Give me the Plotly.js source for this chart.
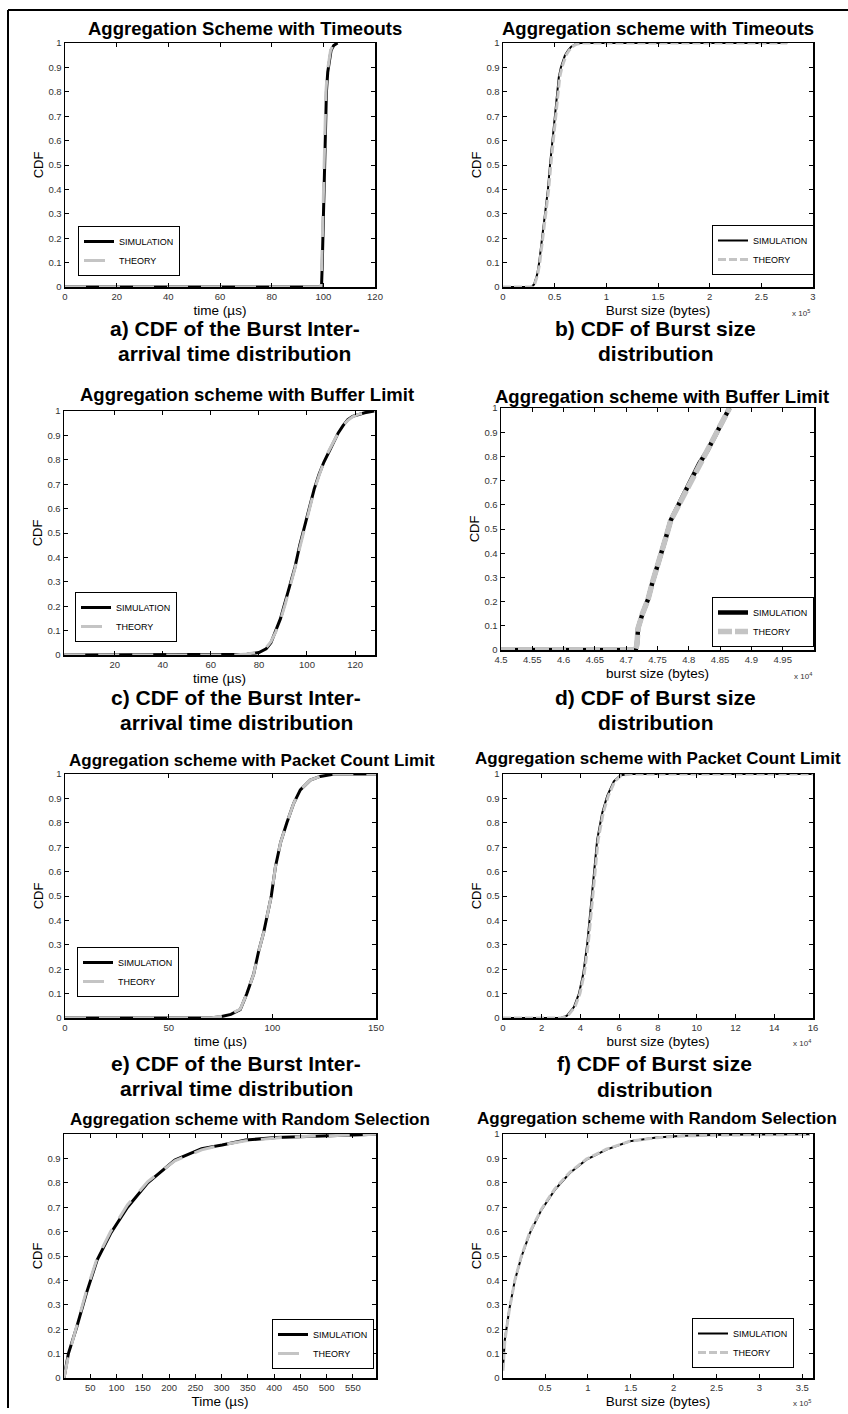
<!DOCTYPE html>
<html><head><meta charset="utf-8">
<script src="https://cdn.plot.ly/plotly-3.0.1.min.js"></script>
<style>html,body{margin:0;padding:0;background:#fff;} #chart{width:848px;height:1414px;}</style>
</head><body><div id="chart"></div>
<script>
// ---------------- DATA ----------------
// a) Timeouts - burst inter-arrival time (µs)
const aTimeSim    = [0, 99.3, 99.6, 99.9, 100.2, 100.5, 100.8, 101.2, 101.7, 102.3, 103, 104, 105.5];
const aCdfSim     = [0, 0, 0.1, 0.25, 0.42, 0.58, 0.7, 0.8, 0.88, 0.93, 0.97, 0.99, 1];
const aTimeTheory = [0, 99.1, 99.4, 99.7, 100.0, 100.3, 100.6, 101.0, 101.5, 102.1, 102.8, 103.8, 105.5];
const aCdfTheory  = [0, 0, 0.1, 0.25, 0.42, 0.58, 0.7, 0.8, 0.88, 0.93, 0.97, 0.99, 1];
// b) Timeouts - burst size (bytes)
const bSizeSim    = [0, 27000, 30000, 33000, 35000, 38000, 41000, 43500, 45500, 47800, 50000, 52000, 54000, 56000, 58000, 60000, 63000, 66000, 70000, 75000, 100000, 150000, 200000, 275000];
const bCdfSim     = [0, 0, 0.01, 0.05, 0.1, 0.2, 0.3, 0.4, 0.5, 0.6, 0.7, 0.8, 0.86, 0.9, 0.93, 0.95, 0.97, 0.985, 0.995, 1, 1, 1, 1, 1];
const bSizeTheory = [0, 27500, 30500, 33500, 35600, 38700, 41700, 44200, 46300, 48600, 50800, 52900, 54900, 57000, 59000, 61000, 64000, 67000, 71000, 76000, 100000, 150000, 200000, 275000];
const bCdfTheory  = [0, 0, 0.01, 0.05, 0.1, 0.2, 0.3, 0.4, 0.5, 0.6, 0.7, 0.8, 0.86, 0.9, 0.93, 0.95, 0.97, 0.985, 0.995, 1, 1, 1, 1, 1];
// c) Buffer limit - burst inter-arrival time (µs)
const cTimeSim    = [-1, 70, 75, 80, 83, 85, 87, 89, 91, 93, 95, 97, 99, 101, 103, 105, 107, 109, 111, 113, 115, 117, 119, 121, 124, 128];
const cCdfSim     = [0, 0, 0.003, 0.01, 0.025, 0.05, 0.1, 0.15, 0.22, 0.29, 0.36, 0.45, 0.53, 0.61, 0.68, 0.74, 0.79, 0.83, 0.87, 0.91, 0.94, 0.965, 0.978, 0.985, 0.993, 1];
const cTimeTheory = [-1, 70, 75, 80, 83, 85, 87, 89, 91, 93, 95, 97, 99, 101, 103, 105, 107, 109, 111, 113, 115, 117, 119, 121, 124, 128];
const cCdfTheory  = [0, 0, 0.004, 0.012, 0.03, 0.055, 0.095, 0.145, 0.21, 0.28, 0.355, 0.44, 0.52, 0.6, 0.675, 0.735, 0.79, 0.835, 0.875, 0.91, 0.94, 0.962, 0.976, 0.985, 0.993, 1];
// d) Buffer limit - burst size (bytes)
const dSizeSim    = [45000, 47150, 47170, 47190, 47260, 47350, 47420, 47500, 47570, 47640, 47710, 47820, 47950, 48070, 48170, 48300, 48400, 48510, 48650];
const dCdfSim     = [0, 0, 0.02, 0.09, 0.15, 0.21, 0.28, 0.345, 0.405, 0.47, 0.535, 0.59, 0.66, 0.717, 0.772, 0.825, 0.878, 0.934, 1.0];
const dSizeTheory = [45000, 47150, 47170, 47190, 47260, 47350, 47420, 47500, 47570, 47640, 47710, 47820, 47950, 48070, 48170, 48300, 48400, 48510, 48650];
const dCdfTheory  = [0, 0, 0.02, 0.09, 0.15, 0.21, 0.28, 0.345, 0.405, 0.47, 0.535, 0.59, 0.66, 0.717, 0.772, 0.825, 0.878, 0.934, 1.0];
// e) Packet count limit - burst inter-arrival time (µs)
const eTimeSim    = [0, 70, 75, 80, 84.5, 87.7, 91, 93.3, 95.8, 98.2, 99.5, 101.5, 104, 107, 110.3, 113.5, 118.3, 123, 130, 150];
const eCdfSim     = [0, 0, 0.005, 0.015, 0.034, 0.1, 0.18, 0.27, 0.35, 0.44, 0.5, 0.62, 0.72, 0.8, 0.88, 0.935, 0.975, 0.99, 1, 1];
const eTimeTheory = [0, 70, 75, 80, 84.5, 87.7, 91, 93.3, 95.8, 98.2, 99.5, 101.5, 104, 107, 110.3, 113.5, 118.3, 123, 130, 150];
const eCdfTheory  = [0, 0, 0.006, 0.017, 0.036, 0.1, 0.18, 0.27, 0.35, 0.44, 0.5, 0.62, 0.72, 0.8, 0.88, 0.935, 0.975, 0.99, 1, 1];
// f) Packet count limit - burst size (bytes)
const fSizeSim    = [0, 30000, 33000, 36600, 39200, 41400, 43500, 45200, 46900, 48600, 51200, 53800, 57200, 60700, 65800, 100000, 160000];
const fCdfSim     = [0, 0, 0.01, 0.045, 0.1, 0.18, 0.305, 0.455, 0.59, 0.73, 0.84, 0.91, 0.97, 0.995, 1, 1, 1];
const fSizeTheory = [0, 30500, 33500, 37100, 39700, 41900, 44000, 45700, 47400, 49100, 51700, 54300, 57700, 61200, 66300, 100000, 160000];
const fCdfTheory  = [0, 0, 0.01, 0.045, 0.1, 0.18, 0.305, 0.455, 0.59, 0.73, 0.84, 0.91, 0.97, 0.995, 1, 1, 1];
// g) Random selection - burst inter-arrival time (µs)
const gTimeSim    = [0, 8.4, 24.4, 42.4, 63, 88.7, 121, 159.5, 211, 262, 301, 346, 404, 455, 520, 594];
const gCdfSim     = [0, 0.1, 0.21, 0.346, 0.483, 0.592, 0.70, 0.80, 0.893, 0.94, 0.955, 0.975, 0.986, 0.99, 0.993, 0.999];
const gTimeTheory = [0, 8.4, 24.4, 42.4, 63, 88.7, 121, 159.5, 211, 262, 301, 346, 404, 455, 520, 594];
const gCdfTheory  = [0, 0.09, 0.215, 0.355, 0.49, 0.6, 0.71, 0.805, 0.89, 0.935, 0.955, 0.972, 0.984, 0.99, 0.994, 0.999];
// h) Random selection - burst size (bytes)
const hSizeSim    = [1000, 3100, 8200, 14800, 22500, 32200, 45800, 61400, 78900, 98300, 121600, 148800, 180000, 211000, 258000, 359000];
const hCdfSim     = [0.04, 0.155, 0.278, 0.40, 0.497, 0.593, 0.689, 0.771, 0.84, 0.895, 0.936, 0.97, 0.986, 0.993, 0.997, 0.999];
const hSizeTheory = [1000, 3100, 8200, 14800, 22500, 32200, 45800, 61400, 78900, 98300, 121600, 148800, 180000, 211000, 258000, 359000];
const hCdfTheory  = [0.03, 0.15, 0.275, 0.40, 0.5, 0.597, 0.692, 0.775, 0.843, 0.897, 0.938, 0.97, 0.985, 0.992, 0.996, 0.998];

// tick values / labels
const cdfTickVals   = [0, 0.1, 0.2, 0.3, 0.4, 0.5, 0.6, 0.7, 0.8, 0.9, 1];
const cdfTickText   = ['0', '0.1', '0.2', '0.3', '0.4', '0.5', '0.6', '0.7', '0.8', '0.9', '1'];
const aXTickVals    = [0, 20, 40, 60, 80, 100, 120];
const bXTickVals    = [0, 50000, 100000, 150000, 200000, 250000, 300000];
const bXTickText    = ['0', '0.5', '1', '1.5', '2', '2.5', '3'];
const cXTickVals    = [20, 40, 60, 80, 100, 120];
const dXTickVals    = [45000, 45500, 46000, 46500, 47000, 47500, 48000, 48500, 49000, 49500];
const dXTickText    = ['4.5', '4.55', '4.6', '4.65', '4.7', '4.75', '4.8', '4.85', '4.9', '4.95'];
const eXTickVals    = [0, 50, 100, 150];
const fXTickVals    = [0, 20000, 40000, 60000, 80000, 100000, 120000, 140000, 160000];
const fXTickText    = ['0', '2', '4', '6', '8', '10', '12', '14', '16'];
const gXTickVals    = [50, 100, 150, 200, 250, 300, 350, 400, 450, 500, 550];
const hXTickVals    = [50000, 100000, 150000, 200000, 250000, 300000, 350000];
const hXTickText    = ['0.5', '1', '1.5', '2', '2.5', '3', '3.5'];

const seriesNames = ['SIMULATION', 'THEORY'];
const panelTitles = ['Aggregation Scheme with Timeouts', 'Aggregation scheme with Timeouts',
  'Aggregation scheme with Buffer Limit', 'Aggregation scheme with Buffer Limit',
  'Aggregation scheme with Packet Count Limit', 'Aggregation scheme with Packet Count Limit',
  'Aggregation scheme with Random Selection', 'Aggregation scheme with Random Selection'];
const captionLines = [
  ['a) CDF of the Burst Inter-', 'arrival time distribution'],
  ['b) CDF of Burst size', 'distribution'],
  ['c) CDF of the Burst Inter-', 'arrival time distribution'],
  ['d) CDF of Burst size', 'distribution'],
  ['e) CDF of the Burst Inter-', 'arrival time distribution'],
  ['f) CDF of Burst size', 'distribution']];
const xTitles = ['time (\u00b5s)', 'Burst size (bytes)', 'time (\u00b5s)', 'burst size (bytes)',
  'time (\u00b5s)', 'burst size (bytes)', 'Time (\u00b5s)', 'Burst size (bytes)'];

// ---------------- LAYOUT / STYLE ----------------
const W = 848, H = 1414;
const FONT = 'Liberation Sans, Arial, Helvetica, sans-serif';
const px = v => v / W, py = v => 1 - v / H;

const styles = {
  long:  {simW: 3, thW: 3, dash: '21px,13px'},
  short: {simW: 2, thW: 3, dash: '8px,3px'},
  thick: {simW: 4.5, thW: 5.5, dash: '14px,3px'}
};

const panels = [
  {box:[65,375,43,287],   xr:[0,120],         xtv:aXTickVals, xtt:null,       yr:[0,1],   ytv:cdfTickVals, st:'long',  sx:aTimeSim, sy:aCdfSim, tx:aTimeTheory, ty:aCdfTheory, leg:[78,276],
   title:[245,29,18.5], exp:null},
  {box:[503,813,43,287],  xr:[0,300000],      xtv:bXTickVals, xtt:bXTickText, yr:[0,1],   ytv:cdfTickVals, st:'short', sx:bSizeSim, sy:bCdfSim, tx:bSizeTheory, ty:bCdfTheory, leg:[712,275],
   title:[658,28,18.5], exp:[801,313,'x 10<sup>5</sup>']},
  {box:[64,375,411,655],  xr:[-1.1,128.3],    xtv:cXTickVals, xtt:null,       yr:[0,1],   ytv:cdfTickVals, st:'long',  sx:cTimeSim, sy:cCdfSim, tx:cTimeTheory, ty:cCdfTheory, leg:[75,642],
   title:[247,395,18.5], exp:null},
  {box:[501,814,408,650], xr:[45000,50000],   xtv:dXTickVals, xtt:dXTickText, yr:[0,1],   ytv:cdfTickVals, st:'thick', sx:dSizeSim, sy:dCdfSim, tx:dSizeTheory, ty:dCdfTheory, leg:[712,647],
   title:[662,397,18.5], exp:[803,676,'x 10<sup>4</sup>']},
  {box:[65,376,774,1018], xr:[0,150],         xtv:eXTickVals, xtt:null,       yr:[0,1],   ytv:cdfTickVals, st:'long',  sx:eTimeSim, sy:eCdfSim, tx:eTimeTheory, ty:eCdfTheory, leg:[77,997],
   title:[252,760,17], exp:null},
  {box:[503,813,774,1018],xr:[0,160000],      xtv:fXTickVals, xtt:fXTickText, yr:[0,1],   ytv:cdfTickVals, st:'short', sx:fSizeSim, sy:fCdfSim, tx:fSizeTheory, ty:fCdfTheory, leg:null,
   title:[658,758,17], exp:[802,1043,'x 10<sup>4</sup>']},
  {box:[64,376,1134,1378],xr:[0,594],         xtv:gXTickVals, xtt:null,       yr:[0,1],   ytv:cdfTickVals.slice(0,10), st:'long', sx:gTimeSim, sy:gCdfSim, tx:gTimeTheory, ty:gCdfTheory, leg:[272,1369],
   title:[250,1119,17], exp:null},
  {box:[503,813,1134,1378],xr:[1000,362500],  xtv:hXTickVals, xtt:hXTickText, yr:[0,1],   ytv:cdfTickVals, st:'short', sx:hSizeSim, sy:hCdfSim, tx:hSizeTheory, ty:hCdfTheory, leg:[692,1368],
   title:[657,1118,17], exp:[802,1403,'x 10<sup>5</sup>']}
];
const captionPos = [[235,328,353],[655,328,353],[236,697,722],[655,697,723],[236,1063,1088],[654,1063,1089]];

const traces = [];
const layout = {
  width: W, height: H, margin: {l:0, r:0, t:0, b:0}, paper_bgcolor:'#fff', plot_bgcolor:'#fff',
  font: {family: FONT, color: '#000'}, showlegend: true, annotations: [], shapes: []
};

let legCount = 0;
panels.forEach((p, i) => {
  const n = i + 1, sfx = n === 1 ? '' : String(n);
  const st = styles[p.st];
  let legId = null;
  if (p.leg) { legCount++; legId = legCount === 1 ? 'legend' : 'legend' + legCount; }
  const common = {type:'scatter', mode:'lines', xaxis:'x'+sfx, yaxis:'y'+sfx, hoverinfo:'skip'};
  traces.push(Object.assign({}, common, {x:p.sx, y:p.sy, name:seriesNames[0], line:{color:'#000', width:st.simW},
     showlegend: !!legId, legend: legId || 'legend'}));
  traces.push(Object.assign({}, common, {x:p.tx, y:p.ty, name:seriesNames[1], line:{color:'#c4c4c4', width:st.thW, dash:st.dash},
     showlegend: !!legId, legend: legId || 'legend'}));
  const ytt = p.ytv.map(v => cdfTickText[cdfTickVals.indexOf(v)]);
  layout['xaxis'+sfx] = {
    domain:[px(p.box[0]), px(p.box[1])], anchor:'y'+sfx, range:p.xr, tickmode:'array', tickvals:p.xtv,
    ticktext: p.xtt || p.xtv.map(String), ticks:'inside', ticklen:4, tickwidth:1, tickcolor:'#000',
    showline:true, linecolor:'#000', linewidth:1.5, mirror:'ticks', showgrid:false, zeroline:false,
    tickfont:{size:9.5, color:'#333', family:FONT}, automargin:false,
    title:{text:xTitles[i], font:{size:13.5, color:'#000', family:FONT}, standoff:4}
  };
  layout['yaxis'+sfx] = {
    domain:[py(p.box[3]), py(p.box[2])], anchor:'x'+sfx, range:p.yr, tickmode:'array', tickvals:p.ytv,
    ticktext: ytt, ticks:'inside', ticklen:4, tickwidth:1, tickcolor:'#000',
    showline:true, linecolor:'#000', linewidth:1.5, mirror:'ticks', showgrid:false, zeroline:false,
    tickfont:{size:9.5, color:'#333', family:FONT}, automargin:false,
    title:{text:'CDF', font:{size:13, color:'#000', family:FONT}, standoff:2}
  };
  if (legId) {
    layout[legId] = {x:px(p.leg[0]), y:py(p.leg[1]), xanchor:'left', yanchor:'bottom', xref:'paper', yref:'paper',
      bgcolor:'#fff', bordercolor:'#000', borderwidth:1, font:{size:9, family:FONT, color:'#000'},
      itemwidth:30, tracegroupgap:0, orientation:'v'};
  }
  layout.annotations.push({text:'<b>'+panelTitles[i]+'</b>', xref:'paper', yref:'paper', x:px(p.title[0]), y:py(p.title[1]),
    xanchor:'center', yanchor:'middle', showarrow:false, font:{size:p.title[2], family:FONT, color:'#000'}});
  if (p.exp) layout.annotations.push({text:p.exp[2], xref:'paper', yref:'paper', x:px(p.exp[0]), y:py(p.exp[1]),
    xanchor:'center', yanchor:'middle', showarrow:false, font:{size:8, family:FONT, color:'#333'}});
});
captionLines.forEach((lines, i) => {
  const c = captionPos[i];
  lines.forEach((t, j) => layout.annotations.push({text:'<b>'+t+'</b>', xref:'paper', yref:'paper', x:px(c[0]), y:py(c[1+j]),
    xanchor:'center', yanchor:'middle', showarrow:false, font:{size:21, family:FONT, color:'#000'}}));
});
// outer frame (top and left edges)
layout.shapes.push({type:'line', xref:'paper', yref:'paper', x0:px(8), x1:1, y0:py(10), y1:py(10), line:{color:'#000', width:2}});
layout.shapes.push({type:'line', xref:'paper', yref:'paper', x0:px(8), x1:px(8), y0:py(10), y1:py(1408), line:{color:'#000', width:2}});

Plotly.newPlot('chart', traces, layout, {staticPlot:true, displayModeBar:false});
</script></body></html>
